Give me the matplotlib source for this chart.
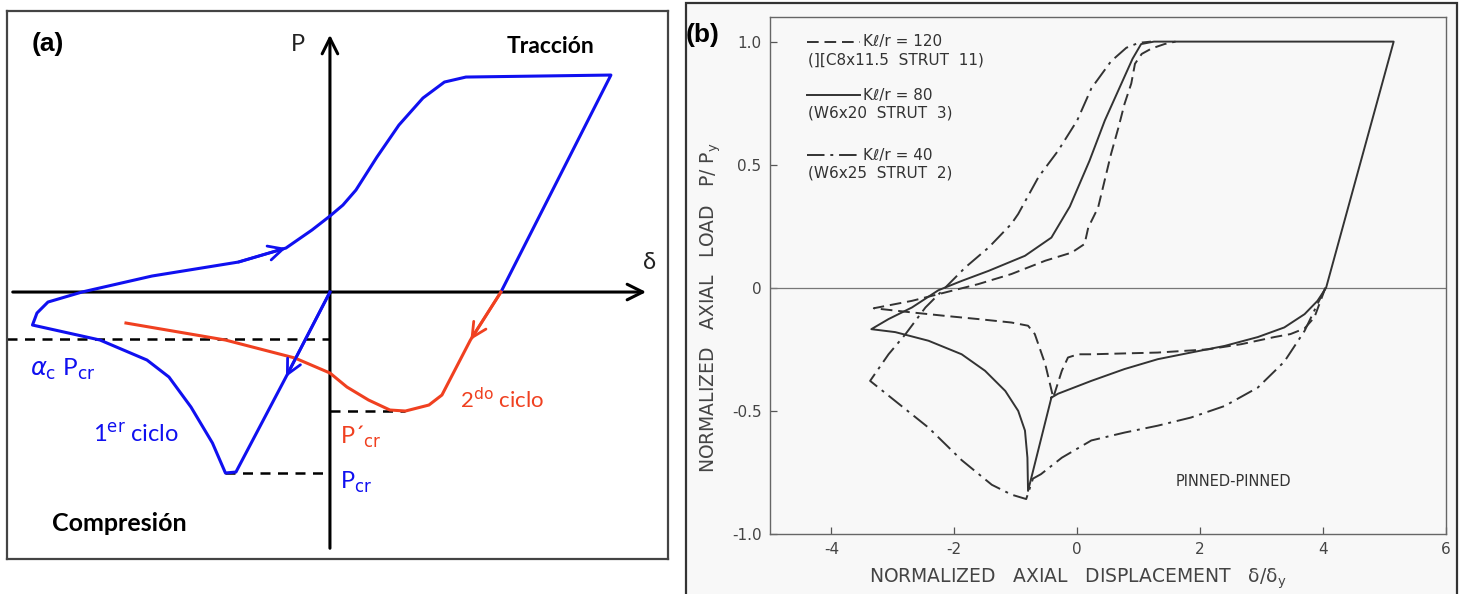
import matplotlib
matplotlib.use("Agg")
import matplotlib.pyplot as plt
from matplotlib.patches import Rectangle

plt.rcParams["axes.unicode_minus"] = False

# ---------------- panel (a) : schematic hysteresis (arbitrary units) ----------------
ciclo1_x = [0.0, -0.44, -0.94, -1.045, -1.175, -1.39, -1.61, -1.83, -2.30, -2.975, -2.93,
            -2.82, -2.48, -1.78, -0.915, -0.44, -0.18, 0.0, 0.13, 0.26, 0.47, 0.69, 0.93,
            1.145, 1.36, 2.81, 1.71]
ciclo1_y = [0.0, -0.85, -1.80, -1.81, -1.51, -1.15, -0.85, -0.68, -0.48, -0.33, -0.21,
            -0.10, 0.0, 0.16, 0.30, 0.44, 0.62, 0.76, 0.87, 1.02, 1.35, 1.67, 1.94,
            2.10, 2.15, 2.17, 0.0]
ciclo2_x = [1.71, 1.405, 1.12, 0.99, 0.755, 0.60, 0.386, 0.17, 0.0, -0.35, -1.045, -2.04]
ciclo2_y = [0.0, -0.48, -1.03, -1.13, -1.19, -1.18, -1.08, -0.95, -0.81, -0.66, -0.48, -0.31]
alpha_pcr = -0.47
pcr = min(ciclo1_y)
pcr2 = min(ciclo2_y)

# ---------------- panel (b) : test results ----------------
s80_x = [-0.42, -0.80, -0.81, -0.85, -0.96, -1.17, -1.50, -1.88, -2.42, -2.96, -3.35,
         -3.07, -2.69, -2.26, -1.88, -1.44, -0.85, -0.42, -0.12, 0.20, 0.45, 0.72, 0.90,
         1.04, 1.25, 5.15, 4.05, 3.91, 3.70, 3.37, 2.94, 2.40, 1.85, 1.31, 0.77, 0.23,
         -0.31, -0.42]
s80_y = [-0.446, -0.825, -0.69, -0.58, -0.50, -0.419, -0.337, -0.27, -0.215, -0.18, -0.168,
         -0.127, -0.08, -0.01, 0.028, 0.069, 0.13, 0.204, 0.33, 0.516, 0.68, 0.83, 0.93,
         0.99, 1.0, 1.0, 0.0, -0.053, -0.107, -0.161, -0.20, -0.236, -0.263, -0.29, -0.33,
         -0.378, -0.43, -0.446]

s120_x = [4.04, 3.97, 3.86, 3.70, 3.47, 3.21, 2.67, 2.13, 1.31, 0.23, 0.016, -0.15, -0.25,
          -0.39, -0.52, -0.69, -0.80, -1.07, -1.61, -2.15, -2.69, -3.31, -2.69, -2.15,
          -1.61, -1.07, -0.52, -0.09, 0.12, 0.18, 0.34, 0.55, 0.67, 0.77, 0.88, 0.94,
          1.05, 1.21, 1.42, 1.60]
s120_y = [0.0, -0.046, -0.12, -0.165, -0.188, -0.20, -0.229, -0.25, -0.263, -0.27, -0.27,
          -0.283, -0.337, -0.446, -0.31, -0.188, -0.154, -0.141, -0.127, -0.114, -0.10,
          -0.083, -0.053, -0.019, 0.015, 0.056, 0.11, 0.143, 0.178, 0.245, 0.326, 0.543,
          0.65, 0.747, 0.83, 0.91, 0.95, 0.972, 0.99, 1.0]

s40_x = [4.04, 3.91, 3.70, 3.37, 2.94, 2.40, 1.85, 1.31, 0.77, 0.23, -0.25, -0.59, -0.72,
         -0.83, -1.07, -1.39, -1.88, -2.42, -2.96, -3.37, -3.07, -2.80, -2.47, -2.15,
         -1.82, -1.44, -1.07, -0.96, -0.63, -0.31, 0.0, 0.23, 0.55, 0.80, 1.0, 1.2]
s40_y = [0.0, -0.066, -0.175, -0.30, -0.405, -0.48, -0.527, -0.56, -0.588, -0.62, -0.69,
         -0.757, -0.775, -0.858, -0.84, -0.80, -0.70, -0.568, -0.46, -0.378, -0.27, -0.19,
         -0.08, 0.0, 0.083, 0.164, 0.26, 0.30, 0.45, 0.557, 0.68, 0.81, 0.92, 0.975,
         0.995, 1.0]

xticks_b = [-4, -2, 0, 2, 4, 6]
yticks_b = [-1.0, -0.5, 0.0, 0.5, 1.0]
yticklabels_b = ["-1.0", "-0.5", "0", "0.5", "1.0"]
legend_b = [("Kℓ/r = 120", "(][C8x11.5  STRUT  11)", (0, (6, 3))),
            ("Kℓ/r = 80", "(W6x20  STRUT  3)", "-"),
            ("Kℓ/r = 40", "(W6x25  STRUT  2)", (0, (9, 3, 1.5, 3)))]

BLUE = "#1010f0"
RED = "#f04020"
INK = "#333333"

fig = plt.figure(figsize=(14.66, 5.94), dpi=100)
fig.patch.set_facecolor("white")

# ======================= (a) =======================
axa = fig.add_axes([0.0051, 0.0589, 0.4505, 0.923])
axa.set_xlim(-3.225, 3.38)
axa.set_ylim(-2.67, 2.813)
axa.set_xticks([])
axa.set_yticks([])
for sp in axa.spines.values():
    sp.set_color("#444444")
    sp.set_linewidth(1.6)

# ejes con flecha
axa.annotate("", xy=(3.19, 0), xytext=(-3.2, 0),
             arrowprops=dict(arrowstyle="->", color="black", lw=2.2, mutation_scale=28))
axa.annotate("", xy=(0, 2.60), xytext=(0, -2.59),
             arrowprops=dict(arrowstyle="->", color="black", lw=2.2, mutation_scale=28))

# lineas de referencia
dash = dict(color="black", lw=1.8, ls=(0, (4, 3)))
axa.plot([-3.225, 0], [alpha_pcr, alpha_pcr], **dash)
i_min1 = ciclo1_y.index(pcr)
axa.plot([ciclo1_x[i_min1], 0], [pcr, pcr], **dash)
i_min2 = ciclo2_y.index(pcr2)
axa.plot([0, ciclo2_x[i_min2]], [pcr2, pcr2], **dash)

axa.plot(ciclo1_x, ciclo1_y, color=BLUE, lw=2.2, solid_joinstyle="round", zorder=3)
axa.plot(ciclo2_x, ciclo2_y, color=RED, lw=2.2, solid_joinstyle="round", zorder=3)

# flechas de sentido sobre las curvas
def flecha(xs, ys, i, c):
    axa.annotate("", xy=(xs[i], ys[i]), xytext=(xs[i - 1], ys[i - 1]),
                 arrowprops=dict(arrowstyle="->", color=c, lw=2.0, mutation_scale=26,
                                 shrinkA=0, shrinkB=0), zorder=4)

flecha(ciclo1_x, ciclo1_y, 1, BLUE)
flecha(ciclo1_x, ciclo1_y, 15, BLUE)
flecha(ciclo2_x, ciclo2_y, 1, RED)

fa = "Lato"
axa.text(-2.98, 2.48, "(a)", fontsize=19, fontweight="bold", family="Liberation Sans",
         va="center", ha="left")
axa.text(-0.32, 2.48, "P", fontsize=17, family=fa, color="#222222", va="center", ha="center")
axa.text(3.20, 0.30, "δ", fontsize=17, family=fa, color="#222222", va="center", ha="center")
axa.text(2.21, 2.46, "Tracción", fontsize=16.5, fontweight="bold", family=fa,
         va="center", ha="center")
axa.text(-2.11, -2.31, "Compresión", fontsize=18, fontweight="bold", family=fa,
         va="center", ha="center")
axa.text(-3.0, -0.77, r"$\alpha_{\rm c}$ P$_{\rm cr}$", fontsize=17.5, color=BLUE,
         family=fa, va="center", ha="left")
axa.text(-2.37, -1.42, r"1$^{\rm er}$ ciclo", fontsize=17, color=BLUE, family=fa,
         va="center", ha="left")
axa.text(0.10, -1.90, r"P$_{\rm cr}$", fontsize=17, color=BLUE, family=fa,
         va="center", ha="left")
axa.text(0.10, -1.45, r"P´$_{\rm cr}$", fontsize=17, color=RED, family=fa,
         va="center", ha="left")
axa.text(1.30, -1.08, r"2$^{\rm do}$ ciclo", fontsize=16, color=RED, family=fa,
         va="center", ha="left")

# ======================= (b) =======================
fig.patches.append(Rectangle((685.5 / 1466, -0.05), (1457 - 685.5) / 1466, 1.05 - 3 / 594,
                             transform=fig.transFigure, facecolor="#f8f8f8",
                             edgecolor="#333333", lw=1.6, zorder=-5))

axb = fig.add_axes([0.5252, 0.1010, 0.4611, 0.8704])
axb.set_facecolor("#f8f8f8")
axb.set_xlim(-5, 6)
axb.set_ylim(-1.0, 1.1)
for sp in axb.spines.values():
    sp.set_color("#666666")
    sp.set_linewidth(1.0)
axb.axhline(0, color="#777777", lw=0.9)

axb.plot(s80_x, s80_y, color=INK, lw=1.4, solid_joinstyle="round")
axb.plot(s120_x, s120_y, color=INK, lw=1.4, ls=(0, (6, 3)))
axb.plot(s40_x, s40_y, color=INK, lw=1.4, ls=(0, (9, 3, 1.5, 3)))

axb.set_xticks(xticks_b)
axb.set_yticks(yticks_b)
axb.set_yticklabels(yticklabels_b)
axb.tick_params(direction="in", length=5, width=0.9, color="#555555",
                labelsize=11, labelcolor="#444444", pad=6)
axb.set_xlabel("NORMALIZED   AXIAL   DISPLACEMENT   δ/δ$_{\\rm y}$", fontsize=13.5,
               color="#444444")
axb.xaxis.set_label_coords(0.456, -0.062)
axb.set_ylabel("NORMALIZED   AXIAL   LOAD   P/ P$_{\\rm y}$", fontsize=13.5,
               color="#444444")
axb.yaxis.set_label_coords(-0.07, 0.437)

leg_y = [0.952, 0.849, 0.733]
for (lab1, lab2, ls), yy in zip(legend_b, leg_y):
    axb.plot([0.055, 0.133], [yy, yy], transform=axb.transAxes, color=INK, lw=1.4, ls=ls)
    axb.text(0.138, yy, lab1, transform=axb.transAxes, fontsize=11, color=INK,
             va="center", ha="left")
    axb.text(0.056, yy - 0.035, lab2, transform=axb.transAxes, fontsize=11, color=INK,
             va="center", ha="left")

axb.text(2.54, -0.785, "PINNED-PINNED", fontsize=10.5, color=INK, ha="center", va="center")

fig.text(703 / 1466, 1 - 35 / 594, "(b)", fontsize=19, fontweight="bold",
         family="Liberation Sans", ha="center", va="center")

fig.savefig("out.png", dpi=100)
